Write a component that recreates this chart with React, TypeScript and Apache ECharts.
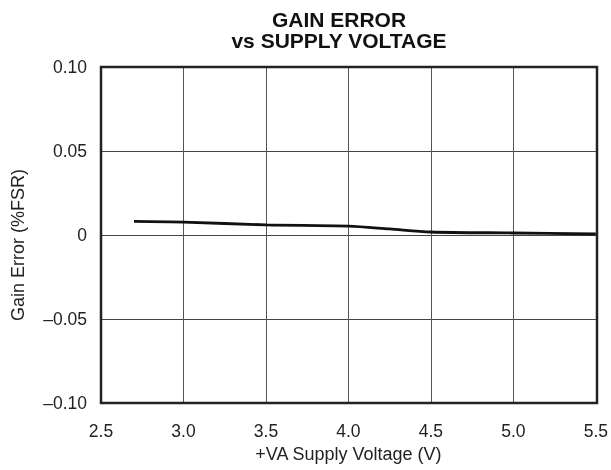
import React, { useEffect, useRef } from "react";
import * as echarts from "echarts";

const voltage = [2.7, 3.0, 3.5, 4.0, 4.25, 4.5, 5.0, 5.5];
const gainError = [0.0081, 0.0077, 0.006, 0.0053, 0.0036, 0.0018, 0.0012, 0.0006];
const yTickLabels: Record<string, string> = {
  "0.1": "0.10",
  "0.05": "0.05",
  "0": "0",
  "-0.05": "\u20130.05",
  "-0.1": "\u20130.10",
};

export default function App() {
  const ref = useRef<HTMLDivElement>(null);
  useEffect(() => {
    if (!ref.current) return;
    const chart = echarts.init(ref.current, null, { renderer: "svg" });
    const font = "Liberation Sans, Arial, sans-serif";
    chart.setOption({
      animation: false,
      title: {
        text: "GAIN ERROR\nvs SUPPLY VOLTAGE",
        left: 339,
        top: 9,
        textAlign: "center",
        padding: 0,
        textStyle: {
          fontFamily: font,
          fontWeight: "bold",
          fontSize: 21,
          lineHeight: 21,
          color: "#111",
        },
      },
      grid: { left: 101, right: 14, top: 67, bottom: 67, containLabel: false },
      xAxis: {
        type: "value",
        min: 2.5,
        max: 5.5,
        interval: 0.5,
        name: "+VA Supply Voltage (V)",
        nameLocation: "middle",
        nameGap: 40,
        nameTextStyle: { fontFamily: font, fontSize: 18, color: "#222" },
        axisLine: { show: false },
        axisTick: { show: false },
        axisLabel: {
          fontFamily: font,
          fontSize: 17.5,
          color: "#222",
          margin: 19,
          formatter: (v: number) => v.toFixed(1),
        },
        splitLine: { show: true, lineStyle: { color: "#555", width: 1 } },
      },
      yAxis: {
        type: "value",
        min: -0.1,
        max: 0.1,
        interval: 0.05,
        axisLine: { show: false },
        axisTick: { show: false },
        axisLabel: {
          fontFamily: font,
          fontSize: 17.5,
          color: "#222",
          margin: 14,
          formatter: (v: number) => yTickLabels[String(Math.round(v * 100) / 100)] ?? String(v),
        },
        splitLine: { show: true, lineStyle: { color: "#444", width: 1 } },
      },
      graphic: [
        {
          type: "rect",
          shape: { x: 101, y: 67, width: 496, height: 336 },
          style: { fill: "none", stroke: "#222", lineWidth: 2.5 },
          z: 100,
        },
        {
          type: "text",
          x: 18,
          y: 245,
          rotation: Math.PI / 2,
          style: {
            text: "Gain Error (%FSR)",
            fontFamily: font,
            fontSize: 18,
            fill: "#222",
            align: "center",
            verticalAlign: "middle",
          },
        },
      ],
      series: [
        {
          type: "line",
          data: voltage.map((v, i) => [v, gainError[i]]),
          smooth: 0.3,
          symbol: "none",
          lineStyle: { color: "#111", width: 2.8 },
        },
      ],
    });
    return () => chart.dispose();
  }, []);
  return (
    <div
      ref={ref}
      style={{ position: "fixed", left: 0, top: 0, width: 611, height: 470 }}
    />
  );
}
